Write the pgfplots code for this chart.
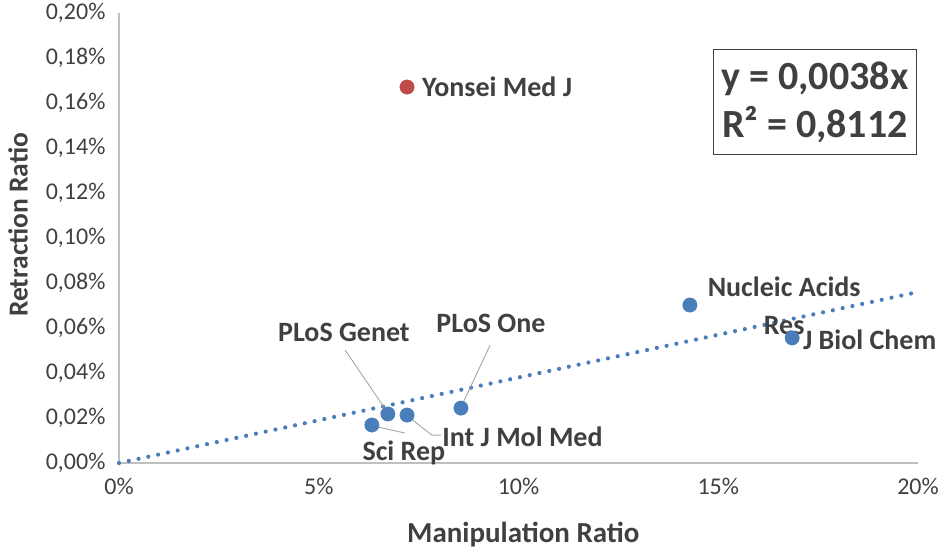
\documentclass[border=0pt]{standalone}
\usepackage{pgfplots}
\pgfplotsset{compat=1.18}
\usepackage{fontspec}
\setmainfont{Carlito}
\definecolor{ptblue}{HTML}{4A7EBB}
\definecolor{ptred}{HTML}{BE4B48}
\definecolor{txt}{HTML}{404040}
\definecolor{axgray}{HTML}{BFBFBF}
\definecolor{leader}{HTML}{A6A6A6}
\begin{document}
\begin{tikzpicture}[x=1pt,y=1pt]
\useasboundingbox (0,0) rectangle (950,554);
\begin{axis}[
  at={(119pt,91pt)}, anchor=south west,
  scale only axis, width=799pt, height=450pt,
  xmin=0, xmax=20, ymin=0, ymax=0.2,
  clip=false,
  axis x line*=bottom, axis y line*=left,
  axis line style={draw=axgray, line width=1.2pt},
  major tick length=0pt,
  xtick={0,5,10,15,20},
  xticklabels={0\%,5\%,10\%,15\%,20\%},
  ytick={0,0.02,0.04,0.06,0.08,0.1,0.12,0.14,0.16,0.18,0.2},
  yticklabels={{0,00\%},{0,02\%},{0,04\%},{0,06\%},{0,08\%},{0,10\%},{0,12\%},{0,14\%},{0,16\%},{0,18\%},{0,20\%}},
  tick label style={font=\fontsize{24}{28}\selectfont, text=txt},
  xticklabel style={yshift=-12pt},
  yticklabel style={xshift=-10pt},
  xlabel={Manipulation Ratio},
  ylabel={Retraction Ratio},
  xlabel style={font=\bfseries\fontsize{29}{33}\selectfont, text=txt, at={(axis description cs:0.506,-0.16)}, anchor=center},
  ylabel style={font=\bfseries\fontsize{27.5}{32}\selectfont, text=txt, at={(axis description cs:-0.1264,0.529)}, anchor=center, rotate=0},
]
% trend line y = 0.0038x
\addplot[ptblue, line width=4.2pt, line cap=round, dash pattern=on 0pt off 10pt] coordinates {(0,0) (20,0.076)};
% leader lines
\draw[leader, line width=0.9pt] (axis cs:5.66,0.0502) -- (axis cs:6.68,0.0236);
\draw[leader, line width=0.9pt] (axis cs:9.29,0.0524) -- (axis cs:8.61,0.0267);
\draw[leader, line width=0.9pt] (axis cs:7.26,0.0204) -- (axis cs:7.83,0.0124) -- (axis cs:8.06,0.0124);
\draw[leader, line width=0.9pt] (axis cs:6.38,0.0164) -- (axis cs:7.16,0.0133);
% blue journals
\addplot[only marks, mark=*, mark size=7.2pt, color=ptblue, mark options={draw=ptblue, fill=ptblue}] coordinates {
(14.29,0.0702) (16.85,0.0556) (8.56,0.0244) (6.73,0.0218) (7.21,0.0213) (6.33,0.0169)};
% red outlier
\addplot[only marks, mark=*, mark size=7.2pt, color=ptred, mark options={draw=ptred, fill=ptred}] coordinates {(7.21,0.1671)};
% labels
\tikzset{lbl/.style={font=\bfseries\fontsize{28}{32}\selectfont, text=txt, inner sep=0pt}}
\node[lbl, anchor=west] at (axis cs:7.58,0.1671) {Yonsei Med J};
\node[lbl] at (axis cs:16.65,0.0782) {Nucleic Acids};
\node[lbl] at (axis cs:16.65,0.0613) {Res};
\node[lbl, anchor=west] at (axis cs:17.12,0.0547) {J Biol Chem};
\node[lbl] at (axis cs:5.63,0.0582) {PLoS Genet};
\node[lbl] at (axis cs:9.31,0.0622) {PLoS One};
\node[lbl, anchor=west] at (axis cs:8.09,0.0116) {Int J Mol Med};
\node[lbl] at (axis cs:7.13,0.0044) {Sci Rep};
% equation box
\node[draw=txt, line width=1pt, fill=white, text=txt, font=\bfseries\fontsize{40}{48}\selectfont, align=center, inner xsep=4pt, inner ysep=4pt, minimum width=203pt, minimum height=105pt] at (axis cs:17.42,0.1604) {y = 0,0038x\\R² = 0,8112};
\end{axis}
\end{tikzpicture}
\end{document}
